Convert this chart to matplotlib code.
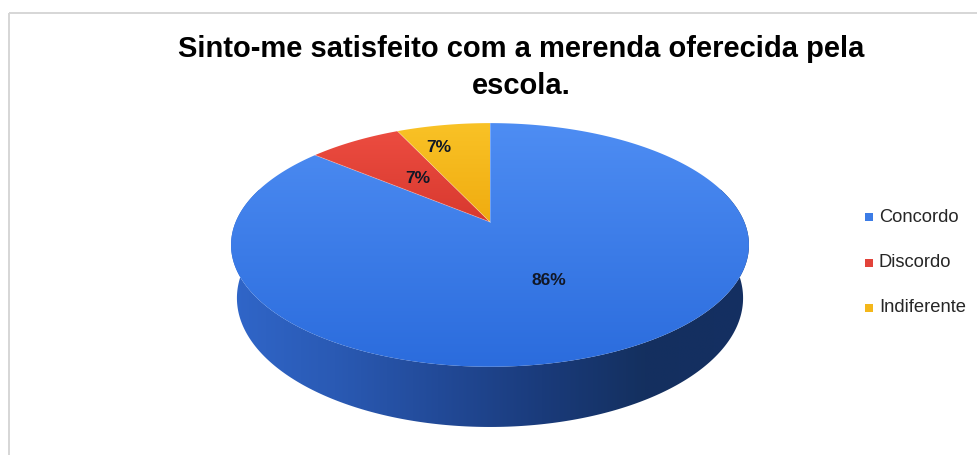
import numpy as np
import matplotlib
matplotlib.use("Agg")
import matplotlib.pyplot as plt
from matplotlib.patches import Polygon, Rectangle
from matplotlib.colors import LinearSegmentedColormap

# ---- dados ----
titulo = "Sinto-me satisfeito com a merenda oferecida pela\nescola."
categorias = ["Concordo", "Discordo", "Indiferente"]
percentuais = [86, 7, 7]

# ---- estilo ----
cores_base = ["#3c7ce6", "#e2433a", "#f4b71a"]
cores_topo = [("#4e8df3", "#2b6cdd"), ("#ec4c40", "#d8392f"), ("#f9c226", "#f0ac10")]
cores_lateral = [
    ["#3066c9", "#2a5ab4", "#224a98", "#1a3b7b", "#14305f", "#142f62"],
    ["#b5302a", "#a02822", "#8a221d", "#76201b", "#691c18", "#6c1d19"],
    ["#c9930f", "#b9860c", "#a6770a", "#946a08", "#885f07", "#8a6108"],
]
fonte = "Liberation Sans"

W, H = 977, 455
fig = plt.figure(figsize=(W / 100, H / 100), dpi=100)
ax = fig.add_axes([0, 0, 1, 1])
ax.set_xlim(0, W)
ax.set_ylim(H, 0)
ax.axis("off")

# moldura do gráfico
ax.add_patch(Rectangle((8.5, 12.5), W + 20, H + 20, fill=False,
                       edgecolor="#d6d6d6", lw=1.4, clip_on=False))

# ---- projeção em perspectiva do disco ----
cx, cy = 490.0, 222.0
elev = np.deg2rad(27.1)
dist = 4.73
foco_x, foco_y = 1203.0, 1220.0
espessura = 0.233


def projeta(theta, r=1.0, z=0.0):
    X = r * np.cos(theta)
    Y = r * np.sin(theta)
    s, c = np.sin(elev), np.cos(elev)
    prof = dist + Y * c - z * s
    up = Y * s + z * c
    return np.column_stack([cx + foco_x * X / prof, cy - foco_y * up / prof])


def preenche_gradiente(pontos, cores, horizontal, z):
    poly = Polygon(pontos, closed=True, facecolor="none", edgecolor="none")
    ax.add_patch(poly)
    x0, x1 = pontos[:, 0].min(), pontos[:, 0].max()
    y0, y1 = pontos[:, 1].min(), pontos[:, 1].max()
    cmap = LinearSegmentedColormap.from_list("g", cores)
    grad = np.linspace(0, 1, 256)
    img = grad[None, :] if horizontal else grad[:, None]
    im = ax.imshow(img, cmap=cmap, extent=[x0, x1, y1, y0], aspect="auto",
                   interpolation="bilinear", zorder=z)
    im.set_clip_path(poly)


fracoes = np.array(percentuais, dtype=float) / sum(percentuais)
limites = 90.0 - 360.0 * np.concatenate([[0.0], np.cumsum(fracoes)])

# faces laterais visíveis (parte frontal do disco)
vis_lo, vis_hi = -197.0, 17.0
for i in range(len(categorias)):
    lo, hi = limites[i + 1], limites[i]
    for k in (-1, 0, 1):
        a = max(lo + 360 * k, vis_lo)
        b = min(hi + 360 * k, vis_hi)
        if a < b:
            t = np.deg2rad(np.linspace(a, b, 300))
            topo = projeta(t)
            base = projeta(t[::-1], z=-espessura)
            preenche_gradiente(np.vstack([topo, base]), cores_lateral[i], True, 1)

# superfície superior das fatias
centro = projeta(np.array([0.0]), r=0.0)
for i in range(len(categorias)):
    t = np.deg2rad(np.linspace(limites[i], limites[i + 1], 300))
    pts = np.vstack([centro, projeta(t)])
    preenche_gradiente(pts, cores_topo[i], False, 2)

# divisões radiais entre as fatias
for ang in limites[:-1]:
    borda = projeta(np.array([np.deg2rad(ang)]))
    seg = np.vstack([centro, borda])
    ax.plot(seg[:, 0], seg[:, 1], color=(1, 1, 1, 0.3), lw=0.6, zorder=3)

# rótulos de porcentagem (posição radial e angular dentro da fatia)
raio_rotulo = [0.5, 0.5, 0.75]
frac_angular = [0.5, 0.5, 0.3]
for i, p in enumerate(percentuais):
    ang = limites[i] + frac_angular[i] * (limites[i + 1] - limites[i])
    x, y = projeta(np.array([np.deg2rad(ang)]), r=raio_rotulo[i])[0]
    ax.text(x, y, f"{p}%", ha="center", va="center", fontsize=12.5,
            fontweight="bold", color="#111726", family=fonte, zorder=5)

# título
ax.text(521, 35, titulo, ha="center", va="top", fontsize=21,
        fontweight="bold", family=fonte, linespacing=1.4, color="#000000")

# legenda
for i, nome in enumerate(categorias):
    y = 217 + 45.5 * i
    ax.add_patch(Rectangle((865, y - 4), 8, 8, facecolor=cores_base[i],
                           edgecolor="none", zorder=5))
    ax.text(879, y, nome, ha="left", va="center", fontsize=13.2,
            family=fonte, color="#262626", zorder=5)

fig.savefig("out.png", dpi=100, facecolor="white")
